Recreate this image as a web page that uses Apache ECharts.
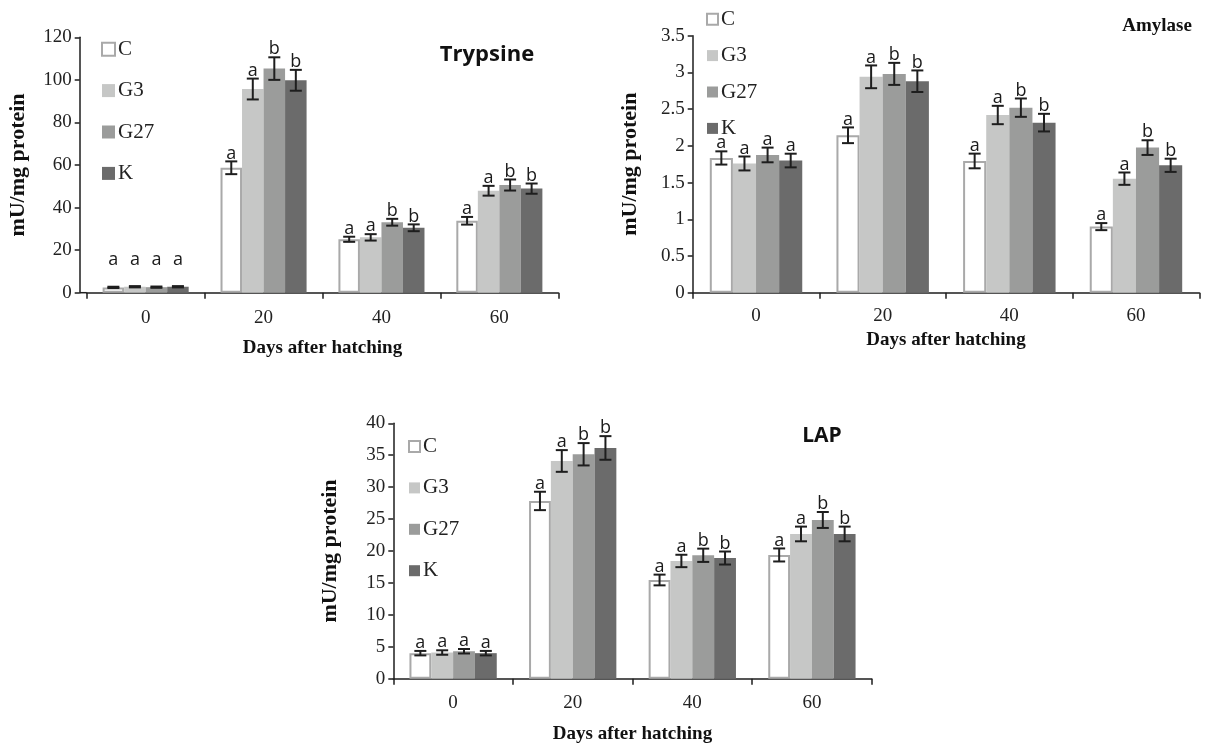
<!DOCTYPE html>
<html>
<head>
<meta charset="utf-8">
<script src="https://cdn.jsdelivr.net/npm/echarts@6/dist/echarts.min.js"></script>
<style>html,body{margin:0;padding:0;background:#fff}#c{width:1206px;height:748px}</style>
</head>
<body>
<div id="c"></div>
<script>
// ---------- data ----------
const categories = ['0', '20', '40', '60'];
const groups = ['C', 'G3', 'G27', 'K'];

// Trypsine
const trypC   = [2.5, 58.7, 25.1, 33.8];
const trypG3  = [2.8, 95.7, 26.0, 47.9];
const trypG27 = [2.6, 105.3, 33.1, 50.6];
const trypK   = [2.8, 99.8, 30.5, 48.9];
const trypErrC   = [0.3, 3.0, 1.2, 1.8];
const trypErrG3  = [0.3, 4.9, 1.5, 2.3];
const trypErrG27 = [0.3, 5.3, 1.6, 2.6];
const trypErrK   = [0.3, 4.9, 1.6, 2.4];
const trypLetC   = ['a', 'a', 'a', 'a'];
const trypLetG3  = ['a', 'a', 'a', 'a'];
const trypLetG27 = ['a', 'b', 'b', 'b'];
const trypLetK   = ['a', 'b', 'b', 'b'];

// Amylase
const amyC   = [1.835, 2.144, 1.794, 0.90];
const amyG3  = [1.76, 2.94, 2.42, 1.553];
const amyG27 = [1.876, 2.98, 2.52, 1.976];
const amyK   = [1.80, 2.88, 2.316, 1.735];
const amyErrC   = [0.09, 0.107, 0.10, 0.048];
const amyErrG3  = [0.095, 0.155, 0.125, 0.084];
const amyErrG27 = [0.10, 0.15, 0.125, 0.10];
const amyErrK   = [0.093, 0.147, 0.12, 0.09];
const amyLetC   = ['a', 'a', 'a', 'a'];
const amyLetG3  = ['a', 'a', 'a', 'a'];
const amyLetG27 = ['a', 'b', 'b', 'b'];
const amyLetK   = ['a', 'b', 'b', 'b'];

// LAP
const lapC   = [4.0, 27.84, 15.46, 19.38];
const lapG3  = [4.1, 34.1, 18.44, 22.67];
const lapG27 = [4.3, 35.15, 19.33, 24.86];
const lapK   = [4.0, 36.14, 18.9, 22.67];
const lapErrC   = [0.35, 1.44, 0.84, 1.02];
const lapErrG3  = [0.35, 1.7, 0.97, 1.15];
const lapErrG27 = [0.35, 1.75, 1.04, 1.25];
const lapErrK   = [0.35, 1.85, 1.02, 1.15];
const lapLetC   = ['a', 'a', 'a', 'a'];
const lapLetG3  = ['a', 'a', 'a', 'a'];
const lapLetG27 = ['a', 'b', 'b', 'b'];
const lapLetK   = ['a', 'b', 'b', 'b'];

// y-axis ticks
const trypTicks = {min: 0, max: 120, interval: 20};
const amyTicks  = {min: 0, max: 3.5, interval: 0.5};
const lapTicks  = {min: 0, max: 40, interval: 5};

// ---------- styles ----------
const SERIF = '"Liberation Serif", "Times New Roman", serif';
const SANS = '"Open Sans", "Liberation Sans", sans-serif';
const INK = '#1e1e1e';
const fills = ['#ffffff', '#c6c7c6', '#9b9c9b', '#6b6b6b'];
const GAP = 0.27;

const charts = [
  {
    title: 'Trypsine', titleFont: SANS, titleSize: 22, titleX: 487, titleY: 44,
    means: [trypC, trypG3, trypG27, trypK],
    errs: [trypErrC, trypErrG3, trypErrG27, trypErrK],
    lets: [trypLetC, trypLetG3, trypLetG27, trypLetK],
    ticks: trypTicks, letterFloor: 11.5,
    grid: {left: 86.7, top: 37.3, width: 471.6, height: 255.4},
    yOffset: 7, yNameGap: 50, xNameGap: 46, xLabelMargin: 16,
    legend: {left: 101, top: 38.7, size: 13, gap: 20.4}
  },
  {
    title: 'Amylase', titleFont: SERIF, titleSize: 19, titleX: 1157, titleY: 17,
    means: [amyC, amyG3, amyG27, amyK],
    errs: [amyErrC, amyErrG3, amyErrG27, amyErrK],
    lets: [amyLetC, amyLetG3, amyLetG27, amyLetK],
    ticks: amyTicks, letterFloor: 0,
    grid: {left: 692.7, top: 35.7, width: 506.6, height: 257},
    yOffset: 0, yNameGap: 51, xNameGap: 38, xLabelMargin: 14,
    legend: {left: 706, top: 8.7, size: 11, gap: 15.4}
  },
  {
    title: 'LAP', titleFont: SANS, titleSize: 21, titleX: 822, titleY: 426,
    means: [lapC, lapG3, lapG27, lapK],
    errs: [lapErrC, lapErrG3, lapErrG27, lapErrK],
    lets: [lapLetC, lapLetG3, lapLetG27, lapLetK],
    ticks: lapTicks, letterFloor: 0,
    grid: {left: 393.3, top: 423.3, width: 478.4, height: 255.4},
    yOffset: 0, yNameGap: 52, xNameGap: 46, xLabelMargin: 15,
    legend: {left: 408, top: 436, size: 11, gap: 20.4}
  }
];

const option = {
  animation: false,
  backgroundColor: '#ffffff',
  grid: [], xAxis: [], yAxis: [], series: [], legend: [], title: [], graphic: []
};

charts.forEach((ch, ci) => {
  option.grid.push(Object.assign({containLabel: false}, ch.grid));
  option.title.push({
    text: ch.title, left: ch.titleX, top: ch.titleY, textAlign: 'center',
    padding: 0,
    textStyle: {fontFamily: ch.titleFont, fontSize: ch.titleSize, fontWeight: 'bold', color: '#111'}
  });
  if (ch.yOffset) {
    // x-axis line continues left to the offset y-axis
    const yb = ch.grid.top + ch.grid.height;
    option.graphic.push({
      type: 'line', silent: true,
      shape: {x1: ch.grid.left - ch.yOffset, y1: yb, x2: ch.grid.left, y2: yb},
      style: {stroke: INK, lineWidth: 1.5}
    });
  }
  option.xAxis.push({
    type: 'category', gridIndex: ci, data: categories,
    axisLine: {show: true, lineStyle: {color: INK, width: 1.5}},
    axisTick: {show: true, length: 6, lineStyle: {color: INK, width: 1.5}},
    axisLabel: {fontFamily: SERIF, fontSize: 19, color: '#222', margin: ch.xLabelMargin},
    name: 'Days after hatching', nameLocation: 'middle', nameGap: ch.xNameGap,
    nameTextStyle: {fontFamily: SERIF, fontSize: 19, fontWeight: 'bold', color: '#111'},
    splitLine: {show: false}
  });
  option.yAxis.push({
    type: 'value', gridIndex: ci,
    min: ch.ticks.min, max: ch.ticks.max, interval: ch.ticks.interval,
    offset: ch.yOffset,
    axisLine: {show: true, lineStyle: {color: INK, width: 1.5}},
    axisTick: {show: true, length: 5, lineStyle: {color: INK, width: 1.5}},
    axisLabel: {fontFamily: SERIF, fontSize: 19, color: '#222', margin: 8},
    splitLine: {show: false},
    name: 'mU/mg protein', nameLocation: 'middle', nameRotate: 90, nameGap: ch.yNameGap,
    nameTextStyle: {fontFamily: SERIF, fontSize: 22, fontWeight: 'bold', color: '#111'}
  });
  option.legend.push({
    data: groups, orient: 'vertical', left: ch.legend.left, top: ch.legend.top,
    itemWidth: ch.legend.size, itemHeight: ch.legend.size, itemGap: ch.legend.gap,
    padding: 0, icon: 'rect', selectedMode: false,
    textStyle: {fontFamily: SERIF, fontSize: 21, color: '#222', padding: [0, 0, 0, -2]}
  });
  groups.forEach((g, si) => {
    option.series.push({
      type: 'bar', name: g, xAxisIndex: ci, yAxisIndex: ci,
      data: ch.means[si],
      barGap: '0%', barCategoryGap: (GAP * 100) + '%',
      itemStyle: si === 0
        ? {color: fills[si], borderColor: '#a9a9a9', borderWidth: 2}
        : {color: fills[si]},
      emphasis: {disabled: true}, silent: true
    });
  });
  // error bars + significance letters
  const rows = [];
  const letters = [];
  groups.forEach((g, si) => {
    categories.forEach((c, k) => {
      rows.push([k, si, ch.means[si][k], ch.errs[si][k]]);
      letters.push(ch.lets[si][k]);
    });
  });
  option.series.push({
    type: 'custom', name: 'err' + ci, xAxisIndex: ci, yAxisIndex: ci,
    data: rows, silent: true, z: 10,
    encode: {x: 0, y: 2},
    renderItem: function (params, api) {
      const k = api.value(0), si = api.value(1), m = api.value(2), e = api.value(3);
      const catW = api.size([1, 0])[0];
      const barW = catW * (1 - GAP) / 4;
      const cx = api.coord([k, m])[0] + (si - 1.5) * barW;
      const yT = api.coord([k, m + e])[1];
      const yB = api.coord([k, m - e])[1];
      const yL = Math.min(yT, api.coord([k, ch.letterFloor])[1]);
      const hw = 6;
      const st = {stroke: INK, lineWidth: 2};
      return {
        type: 'group',
        children: [
          {type: 'line', shape: {x1: cx, y1: yT, x2: cx, y2: yB}, style: st},
          {type: 'line', shape: {x1: cx - hw, y1: yT, x2: cx + hw, y2: yT}, style: st},
          {type: 'line', shape: {x1: cx - hw, y1: yB, x2: cx + hw, y2: yB}, style: st},
          {type: 'text', x: cx, y: yL + 1,
           style: {text: letters[params.dataIndex], fill: '#1a1a1a',
                   font: '18px ' + SANS, align: 'center', verticalAlign: 'bottom'}}
        ]
      };
    }
  });
});

const chart = echarts.init(document.getElementById('c'), null, {renderer: 'canvas'});
chart.setOption(option);
</script>
</body>
</html>
